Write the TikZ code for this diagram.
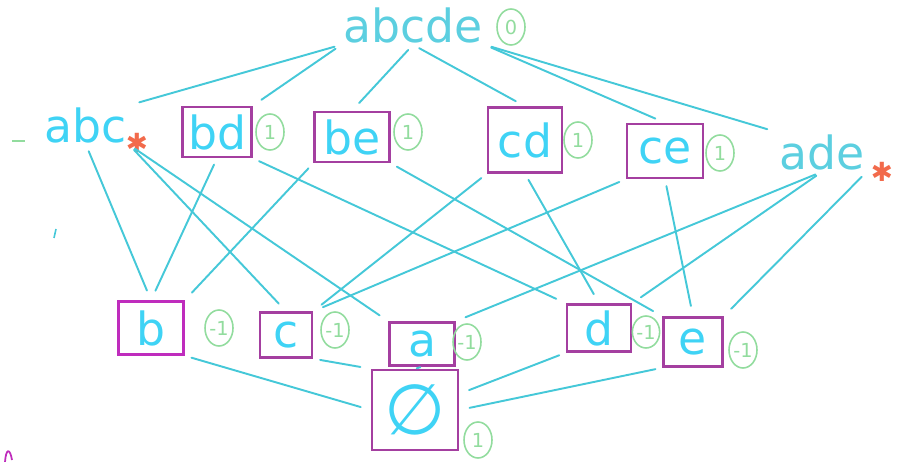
\documentclass[tikz,border=0pt]{standalone}
\usepackage{fontspec}
\setmainfont{DejaVu Sans}
\usetikzlibrary{shapes.geometric}
\definecolor{linec}{HTML}{45C8D8}
\definecolor{labc}{HTML}{3FD3F5}
\definecolor{topc}{HTML}{5CCFE0}
\definecolor{boxc}{HTML}{A43FA0}
\definecolor{wc}{HTML}{92DC9E}
\definecolor{starc}{HTML}{F26A4B}
\tikzset{
  lbl/.style={text=labc, font=\fontsize{26}{28}\selectfont, inner sep=1pt},
  setbox/.style={lbl, draw=boxc, line width=1.4pt, minimum width=1.4cm, minimum height=1cm},
  wt/.style={ellipse, draw=wc, text=wc, line width=0.9pt, minimum width=0.56cm, minimum height=0.72cm, inner sep=0pt, font=\fontsize{11}{12}\selectfont},
  ln/.style={draw=linec, line width=1.1pt, shorten <=4pt, shorten >=6pt, line cap=round},
  asterisk/.style={text=starc, font=\fontsize{15}{15}\selectfont, inner sep=0pt}
}
\begin{document}
\begin{tikzpicture}[x=0.02cm, y=-0.02cm]
        \useasboundingbox (0,0) rectangle (911,462);
        \node[lbl, text=topc] (top) at (413,25) {abcde};
        \node[wt] (w0) at (511,27) {0};

        \node[lbl] (abc) at (86,125) {abc};
        \node[asterisk] (astA) at (137,143) {✱};
        \node[setbox, minimum width=1.38cm] (bd) at (217,132) {bd};
        \node[wt] (wbd) at (270,132) {1};
        \node[setbox, minimum width=1.5cm] (be) at (352,137) {be};
        \node[wt] (wbe) at (408,132) {1};
        \node[setbox, minimum width=1.48cm, minimum height=1.3cm] (cd) at (525,140) {cd};
        \node[wt] (wcd) at (578,140) {1};
        \node[setbox, minimum width=1.52cm, minimum height=1.08cm] (ce) at (665,151) {ce};
        \node[wt] (wce) at (720,153) {1};
        \node[lbl, text=topc] (ade) at (822,152) {ade};
        \node[asterisk] (astB) at (882,172) {✱};

        \node[setbox, draw=boxc!70!magenta, minimum width=1.3cm, minimum height=1.06cm] (b) at (151,328) {b};
        \node[wt] (wb) at (219,328) {-1};
        \node[setbox, minimum width=1.04cm, minimum height=0.9cm] (c) at (286,335) {c};
        \node[wt] (wc) at (335,330) {-1};
        \node[setbox, minimum width=1.3cm, minimum height=0.86cm] (a) at (422,344) {a};
        \node[wt] (wa) at (467,342) {-1};
        \node[setbox, minimum width=1.28cm, minimum height=0.94cm] (d) at (599,328) {d};
        \node[wt, minimum width=0.44cm, minimum height=0.64cm] (wd) at (646,332) {-1};
        \node[setbox, minimum width=1.18cm, minimum height=0.98cm] (e) at (693,342) {e};
        \node[wt] (we) at (743,350) {-1};

        \node[setbox, minimum width=1.72cm, minimum height=1.6cm, font=\fontsize{40}{42}\selectfont] (emp) at (415,410) {∅};
        \node[wt] (wemp) at (478,440) {1};

        \draw[ln] (top.south west) -- (abc.north east);
        \draw[ln] (top.south west) -- (bd.north east);
        \draw[ln] (top.south) -- (be.north);
        \draw[ln] (top.south) -- (cd.north);
        \draw[ln] (top.south east) -- (ce.north);
        \draw[ln] (top.south east) -- (ade.north west);

        \draw[ln] (abc.south) -- (b.north);
        \draw[ln] (abc.south east) -- (c.north);
        \draw[ln] (abc.south east) -- (a.north west);
        \draw[ln] (bd.south) -- (b.north);
        \draw[ln] (bd.south east) -- (d.north west);
        \draw[ln] (be.south west) -- (b.north east);
        \draw[ln] (be.south east) -- (e.north west);
        \draw[ln] (cd.south west) -- (c.north east);
        \draw[ln] (cd.south) -- (d.north);
        \draw[ln] (ce.south west) -- (c.north east);
        \draw[ln] (ce.south) -- (e.north);
        \draw[ln] (ade.south) -- (a.north east);
        \draw[ln] (ade.south) -- (d.north east);
        \draw[ln] (ade.south east) -- (e.north east);

        \draw[ln] (b.south east) -- (emp.west);
        \draw[ln] (c.south east) -- (emp.north west);
        \draw[ln, shorten <=1pt, shorten >=1pt] (a.south) -- (emp.north);
        \draw[ln] (d.south west) -- (emp.20);
        \draw[ln] (e.south west) -- (emp.east);

        \draw[wc, line width=0.9pt] (12,141) -- (25,141);
        \draw[linec, line width=0.9pt] (56,229) -- (54,238);
        \draw[boxc!70!magenta, line width=1pt] (5,462) .. controls (6,448) and (10,448) .. (12,460);
      \end{tikzpicture}
\end{document}
